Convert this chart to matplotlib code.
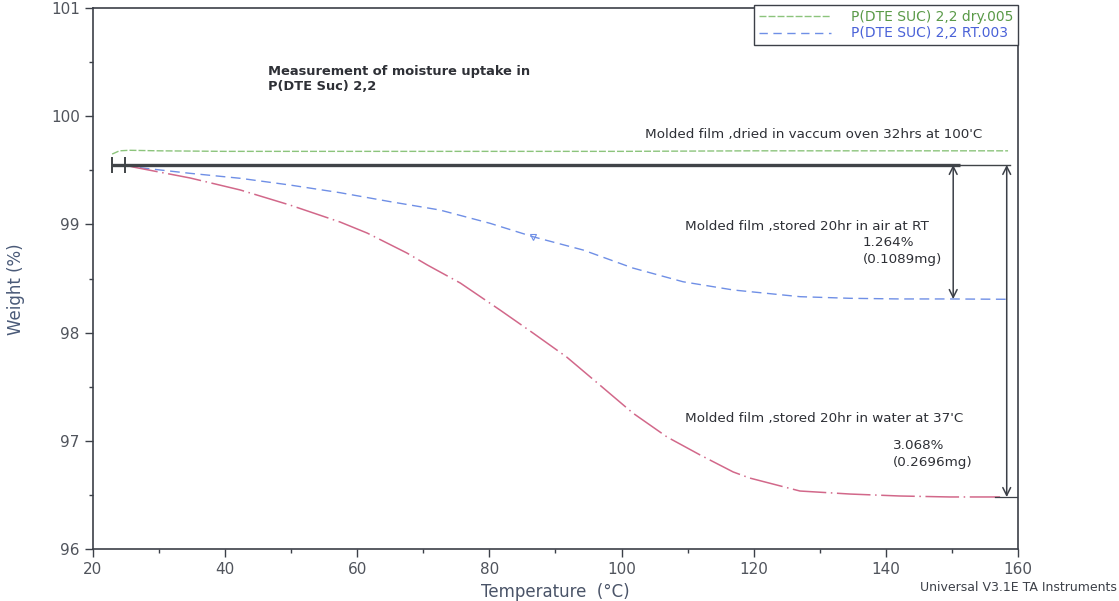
import matplotlib.pyplot as plt
import numpy as np
from matplotlib.lines import Line2D

plt.rcParams['font.family'] = ['DejaVu Sans']

# dried sample (green)
dry_temp = [22.9, 24.0, 25.5, 30, 40, 60, 80, 100, 120, 140, 158.5]
dry_weight = [99.65, 99.68, 99.685, 99.68, 99.675, 99.675, 99.675, 99.675, 99.68, 99.68, 99.68]

# stored in air at RT (blue dashed)
rt_temp = [24.8, 27.1, 34.7, 42.3, 49.8, 57.4, 65.0, 72.5, 80.1, 86.6, 94.2, 101.7,
           109.3, 116.9, 127.0, 134.6, 142.1, 149.7, 158.3]
rt_weight = [99.55, 99.524, 99.472, 99.426, 99.364, 99.293, 99.210, 99.133, 99.010,
             98.886, 98.763, 98.597, 98.470, 98.394, 98.332, 98.317, 98.311, 98.311, 98.308]

# stored in water at 37C (red dash-dot)
water_temp = [24.8, 26.1, 34.7, 42.3, 49.8, 57.4, 61.5, 67.5, 70.6, 75.6, 81.6, 86.6,
              91.7, 96.7, 101.7, 106.9, 111.9, 116.9, 119.4, 127.0, 134.6, 142.1, 149.7,
              157.3]
water_weight = [99.55, 99.530, 99.429, 99.318, 99.179, 99.022, 98.920, 98.736, 98.625,
                98.458, 98.209, 97.996, 97.774, 97.516, 97.257, 97.035, 96.869, 96.712,
                96.656, 96.536, 96.508, 96.490, 96.481, 96.481]

baseline = 99.55
baseline_start, baseline_mid, baseline_end = 22.9, 151.3, 158.8
start_ticks = [22.9, 24.8]
rt_arrow_x, rt_low = 150.2, 98.31
water_arrow_x, water_low = 158.3, 96.48
event_index = 9  # small 'v' event mark on RT curve

fig = plt.figure(figsize=(11.19, 6.01), dpi=100)
ax = fig.add_axes([0.0831, 0.0865, 0.8266, 0.9002])

edge = '#3c4048'
green = '#8cc47c'
blue = '#6f8fe6'
red = '#d2688a'

ax.plot(dry_temp, dry_weight, color=green, lw=1.0, ls=(0, (5, 1.5)))
ax.plot(rt_temp, rt_weight, color=blue, lw=1.0, ls=(0, (7, 4)))
ax.plot(rt_temp[event_index], rt_weight[event_index], marker='v', ms=4,
        mfc='none', mec=blue, mew=0.8)
ax.plot(water_temp, water_weight, color=red, lw=1.1, ls=(0, (22, 3, 1, 3)))

# baseline and start marks
ax.plot([baseline_start, baseline_mid], [baseline, baseline], color='#404448', lw=2.4,
        solid_capstyle='butt')
ax.plot([baseline_mid, baseline_end], [baseline, baseline], color='#404448', lw=1.0)
ax.plot(start_ticks, [baseline] * len(start_ticks), ls='none', marker='|', ms=12,
        mew=1.4, color='#404448')

arrow_kw = dict(arrowstyle='<->', color=edge, lw=1.1, mutation_scale=14,
                shrinkA=0, shrinkB=0)
ax.annotate('', xy=(rt_arrow_x, rt_low), xytext=(rt_arrow_x, baseline), arrowprops=arrow_kw)
ax.annotate('', xy=(water_arrow_x, water_low), xytext=(water_arrow_x, baseline),
            arrowprops=arrow_kw)
ax.plot([water_arrow_x - 1.8, 160], [water_low, water_low], color=edge, lw=0.9)

txt = dict(color='#2e3036', fontsize=9.7)
ax.text(46.5, 100.47, 'Measurement of moisture uptake in\nP(DTE Suc) 2,2', va='top',
        ha='left', fontsize=9.4, color='#2e3036', fontweight='bold', linespacing=1.2)
ax.text(103.5, 99.83, "Molded film ,dried in vaccum oven 32hrs at 100'C", ha='left',
        va='center', **txt)
ax.text(109.6, 98.985, 'Molded film ,stored 20hr in air at RT', ha='left', va='center', **txt)
ax.text(136.5, 98.83, '1.264%', ha='left', va='center', **txt)
ax.text(136.5, 98.68, '(0.1089mg)', ha='left', va='center', **txt)
ax.text(109.6, 97.21, "Molded film ,stored 20hr in water at 37'C", ha='left', va='center', **txt)
ax.text(141.1, 96.96, '3.068%', ha='left', va='center', **txt)
ax.text(141.1, 96.80, '(0.2696mg)', ha='left', va='center', **txt)

ax.set_xlim(20, 160)
ax.set_ylim(96, 101)
ax.set_xticks(np.arange(20, 161, 20))
ax.set_xticks(np.arange(30, 160, 20), minor=True)
ax.set_yticks(np.arange(96, 101.1, 1))
ax.set_yticks(np.arange(96.5, 101, 1), minor=True)
ax.tick_params(axis='both', which='major', colors=edge, labelcolor='#50545c',
               labelsize=11, length=6, width=1)
ax.tick_params(axis='both', which='minor', colors=edge, length=3, width=1)
for s in ax.spines.values():
    s.set_color(edge)
    s.set_linewidth(1.2)

ax.set_xlabel('Temperature  (°C)', fontsize=12, color='#4a5468', labelpad=4)
ax.set_ylabel('Weight (%)', fontsize=12, color='#4a5a78')
ax.yaxis.set_label_coords(-0.074, 0.48)

handles = [Line2D([], [], color=green, lw=1, ls=(0, (5, 1.5))),
           Line2D([], [], color=blue, lw=1, ls=(0, (6, 4)))]
leg = ax.legend(handles, ['P(DTE SUC) 2,2 dry.005', 'P(DTE SUC) 2,2 RT.003'],
                loc='upper right', bbox_to_anchor=(1.0, 1.006), borderaxespad=0,
                fancybox=False, framealpha=1, edgecolor=edge, fontsize=10,
                handlelength=5.2, handletextpad=1.4, borderpad=0.35, labelspacing=0.2,
                labelcolor=['#5a9a48', '#4a62d8'])
leg.get_frame().set_linewidth(1.0)

fig.text(0.998, 0.022, 'Universal V3.1E TA Instruments', ha='right', va='center',
         fontsize=9, color='#3c4048')

fig.savefig('out.png', dpi=100)
